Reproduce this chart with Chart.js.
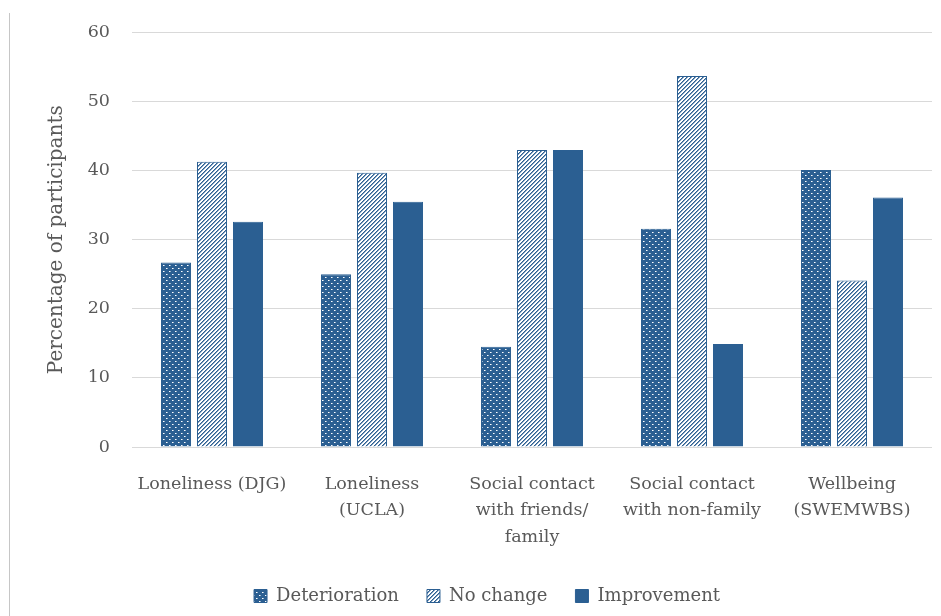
<!DOCTYPE html>
<html>
<head>
<meta charset="utf-8">
<script src="https://cdn.jsdelivr.net/npm/chart.js@4.4.1/dist/chart.umd.min.js"></script>
<style>
  html, body { margin: 0; padding: 0; background: #ffffff; }
  #wrap { position: relative; width: 941px; height: 616px; }
  #frame { position: absolute; left: 9px; top: 13px; width: 1px; height: 603px; background: #c6c6c6; }
  canvas { position: absolute; left: 0; top: 0; }
</style>
</head>
<body>
<div id="wrap">
  <canvas id="c" width="941" height="616"></canvas>
  <div id="frame"></div>
</div>
<script>
const categories = [
  ["Loneliness (DJG)"],
  ["Loneliness", "(UCLA)"],
  ["Social contact", "with friends/", "family"],
  ["Social contact", "with non-family"],
  ["Wellbeing", "(SWEMWBS)"]
];
const seriesNames = ["Deterioration", "No change", "Improvement"];
const deterioration = [26.7, 25.0, 14.5, 31.6, 40.1];
const noChange = [41.3, 39.7, 43.0, 53.7, 24.1];
const improvement = [32.6, 35.5, 43.0, 14.9, 36.1];
const yTicks = [0, 10, 20, 30, 40, 50, 60];

const BLUE = '#2B5F92';
const TEXT = '#595959';
const FONT = "'DejaVu Serif', serif";

function dotPattern() {
  const t = document.createElement('canvas');
  t.width = 6; t.height = 6;
  const g = t.getContext('2d');
  g.fillStyle = BLUE; g.fillRect(0, 0, 6, 6);
  g.fillStyle = '#ffffff';
  g.fillRect(1, 1, 1, 1);
  g.fillRect(4, 4, 1, 1);
  g.fillStyle = '#9fb7cf';
  g.fillRect(2, 1, 1, 1);
  g.fillRect(5, 4, 1, 1);
  return g.createPattern(t, 'repeat');
}
function stripePattern() {
  const t = document.createElement('canvas');
  t.width = 4; t.height = 4;
  const g = t.getContext('2d');
  g.fillStyle = '#ffffff'; g.fillRect(0, 0, 4, 4);
  for (let x = 0; x < 4; x++) {
    g.fillStyle = BLUE;
    g.fillRect(x, 3 - x, 1, 1);
    g.fillStyle = '#7f9dbd';
    g.fillRect(x, (4 - x) % 4, 1, 1);
  }
  return g.createPattern(t, 'repeat');
}

const legendShift = {
  id: 'legendShift',
  afterLayout(chart) {
    if (chart.legend) { chart.legend.left += 21; chart.legend.right += 21; }
  }
};

const ctx = document.getElementById('c').getContext('2d');
new Chart(ctx, {
  type: 'bar',
  data: {
    labels: categories,
    datasets: [
      { label: seriesNames[0], data: deterioration, backgroundColor: dotPattern(), borderColor: BLUE, borderWidth: 1 },
      { label: seriesNames[1], data: noChange, backgroundColor: stripePattern(), borderColor: BLUE, borderWidth: 1 },
      { label: seriesNames[2], data: improvement, backgroundColor: BLUE, borderColor: BLUE, borderWidth: 1 }
    ]
  },
  plugins: [legendShift],
  options: {
    responsive: false,
    animation: false,
    devicePixelRatio: 1,
    layout: { padding: { top: 30, right: 9, left: 0, bottom: 1 } },
    datasets: { bar: { categoryPercentage: 0.675, barPercentage: 0.833 } },
    plugins: {
      tooltip: { enabled: false },
      legend: {
        position: 'bottom',
        labels: {
          boxWidth: 13, boxHeight: 13, padding: 28,
          color: TEXT,
          font: { family: FONT, size: 18 }
        }
      }
    },
    scales: {
      x: {
        grid: { display: false, drawTicks: false },
        border: { display: false },
        ticks: {
          color: TEXT, padding: 24, maxRotation: 0, autoSkip: false,
          font: { family: FONT, size: 17.5, lineHeight: 1.514 }
        },
        afterFit(s) { s.height = 112; }
      },
      y: {
        min: 0, max: 60,
        grid: { color: '#d9d9d9', lineWidth: 1, drawTicks: false },
        border: { display: false },
        afterBuildTicks(s) { s.ticks = yTicks.map(v => ({ value: v })); },
        ticks: {
          color: TEXT, padding: 22,
          font: { family: FONT, size: 17.5 }
        },
        title: {
          display: true, text: 'Percentage of participants', color: TEXT,
          font: { family: FONT, size: 20, lineHeight: 1.2 },
          padding: { top: 45, bottom: 0 }
        },
        afterFit(s) { s.width = 132; }
      }
    }
  }
});
</script>
</body>
</html>
